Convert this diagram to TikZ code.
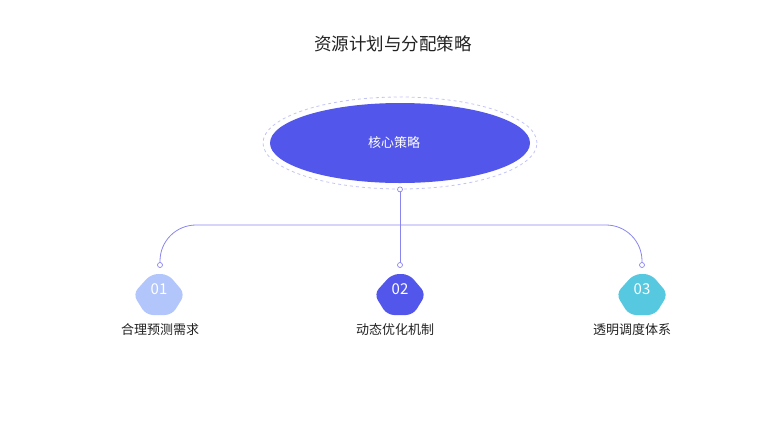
\documentclass[tikz,border=0pt]{standalone}
\usepackage{fontspec}
\setmainfont{Noto Sans CJK SC}
\usepackage{tikz}
\usepackage{xcolor}
\usetikzlibrary{shapes.geometric}
\definecolor{coreblue}{HTML}{5356EA}
\definecolor{ringblue}{HTML}{C3C4F6}
\definecolor{linkblue}{HTML}{8A86F0}
\definecolor{softblue}{HTML}{B3C6FB}
\definecolor{skyblue}{HTML}{56C8E0}
\definecolor{inkgray}{HTML}{222222}

\begin{document}
\begin{tikzpicture}%
  [x=1pt,y=-1pt]
  \tikzstyle{link}=[draw=linkblue,line width=0.8pt]
  \tikzstyle{dot node}=[circle,draw=linkblue,fill=white,line width=0.7pt,inner sep=0,minimum size=5pt]
  \tikzstyle{num node}=[text=white,font=\fontsize{15}{17}\selectfont,inner sep=0]
  \tikzstyle{tag node}=[text=inkgray,font=\fontsize{13}{15}\selectfont,inner sep=0]
  \tikzstyle{badge}=[rounded corners=7pt]
  \useasboundingbox (0,0) rectangle (770,421);
  % title
  \node(title)[text=inkgray,font=\fontsize{17.5}{20}\selectfont] at (393,44) {资源计划与分配策略};
  % core
  \node(ring)[ellipse,draw=ringblue,dashed,line width=0.8pt,minimum width=274pt,minimum height=92pt,inner sep=0] at (400,143) {};
  \node(core)[ellipse,fill=coreblue,minimum width=260pt,minimum height=80pt,inner sep=0] at (400,143) {};
  \node(corelabel)[text=white,font=\fontsize{13}{15}\selectfont,inner sep=0] at (394,143) {核心策略};
  % branches
  \coordinate(hub) at (400,225);
  \coordinate(p1) at (160,265);
  \coordinate(p2) at (400,265);
  \coordinate(p3) at (642,265);
  \draw[link] (ring.south) -- (p2);
  \draw[link,rounded corners=36pt] (p1) -- (p1 |- hub) -- (p3 |- hub) -- (p3);
  \node[dot node] at (ring.south) {};
  \node[dot node] at (p1) {};
  \node[dot node] at (p2) {};
  \node[dot node] at (p3) {};
  % badges
  \fill[softblue,badge] (151,274) -- (168,274) -- (185,294) -- (172,315) -- (146,315) -- (133,294) -- cycle;
  \fill[coreblue,badge] (392,274) -- (409,274) -- (426,294) -- (413,315) -- (387,315) -- (374,294) -- cycle;
  \fill[skyblue,badge] (634,274) -- (651,274) -- (668,294) -- (655,315) -- (629,315) -- (616,294) -- cycle;
  \node(n1)[num node] at (159,289) {01};
  \node(n2)[num node] at (400,289) {02};
  \node(n3)[num node] at (642,289) {03};
  \node(t1)[tag node] at (160,330) {合理预测需求};
  \node(t2)[tag node] at (395,330) {动态优化机制};
  \node(t3)[tag node] at (632,330) {透明调度体系};
\end{tikzpicture}
\end{document}
